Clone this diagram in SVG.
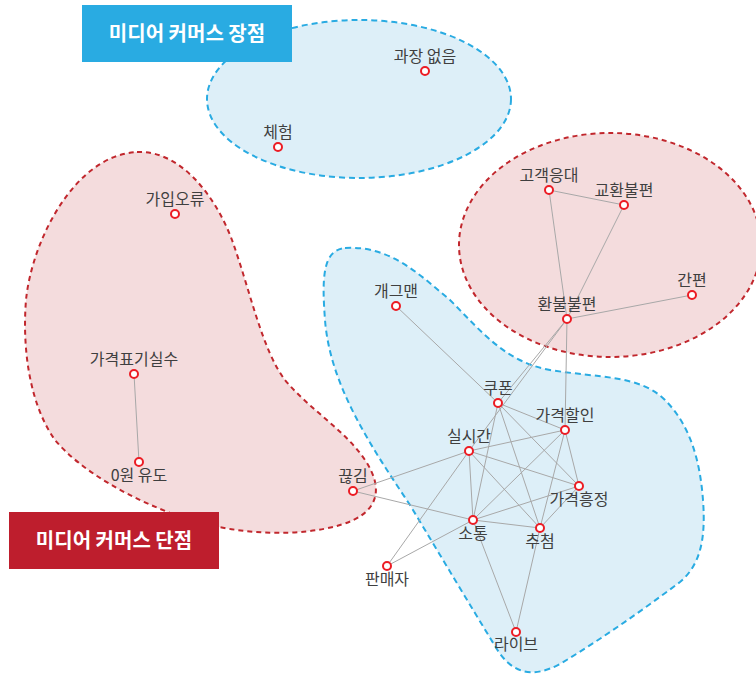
<svg xmlns="http://www.w3.org/2000/svg" width="756" height="677" viewBox="0 0 756 677">
<style>
.blue{fill:#ddeff8;stroke:#29abe2;stroke-width:2;stroke-dasharray:6 4}
.red{fill:#f4dcdd;stroke:#c1272d;stroke-width:2;stroke-dasharray:5 4}
.edge{stroke:#a8a8a8;stroke-width:1;fill:none}
.dot{fill:#fff;stroke:#ec1c24;stroke-width:2}
.lbl{font-family:"Noto Sans CJK KR","Noto Sans",sans-serif;font-size:16px;fill:#3f3f3f;text-anchor:middle}
.title{font-family:"Noto Sans CJK KR","Noto Sans",sans-serif;font-size:20px;font-weight:bold;fill:#fff;text-anchor:middle}
</style>
<rect width="756" height="677" fill="#fff"/>
<g id="regions">
<ellipse id="pros-area" class="blue" cx="359" cy="99" rx="152" ry="79"/>
<ellipse id="cons-area-right" class="red" cx="610" cy="245" rx="151" ry="112"/>
<path id="cons-area-left" class="red" d="M137,152 C180,150 215,195 232,240 C250,290 262,350 285,380 C310,410 345,430 365,460 C385,490 378,514 340,525 C300,537 240,535 190,520 C130,500 80,470 55,440 C30,405 22,350 26,300 C32,240 75,155 137,152 Z"/>
<path id="pros-area-center" class="blue" d="M345,248 C390,245 420,275 450,300 C480,330 505,362 550,370 C600,378 640,375 665,400 C690,425 700,460 703,500 C706,540 700,565 680,582 C640,612 600,640 560,664 C530,680 510,672 495,646 C470,605 440,555 410,505 C370,445 330,385 325,320 C322,280 322,250 345,248 Z"/>
</g>
<g id="connectors">
<line class="edge" x1="134" y1="374" x2="139" y2="462"/>
<line class="edge" x1="549" y1="190" x2="624" y2="205"/>
<line class="edge" x1="549" y1="190" x2="567" y2="319"/>
<line class="edge" x1="624" y1="205" x2="567" y2="319"/>
<line class="edge" x1="692" y1="295" x2="567" y2="319"/>
<line class="edge" x1="567" y1="319" x2="565" y2="430"/>
<line class="edge" x1="567" y1="319" x2="498" y2="403"/>
<line class="edge" x1="567" y1="319" x2="469" y2="451"/>
<line class="edge" x1="396" y1="306" x2="498" y2="403"/>
<line class="edge" x1="498" y1="403" x2="565" y2="430"/>
<line class="edge" x1="498" y1="403" x2="579" y2="486"/>
<line class="edge" x1="498" y1="403" x2="540" y2="528"/>
<line class="edge" x1="498" y1="403" x2="473" y2="520"/>
<line class="edge" x1="469" y1="451" x2="565" y2="430"/>
<line class="edge" x1="469" y1="451" x2="353" y2="491"/>
<line class="edge" x1="469" y1="451" x2="579" y2="486"/>
<line class="edge" x1="469" y1="451" x2="540" y2="528"/>
<line class="edge" x1="469" y1="451" x2="473" y2="520"/>
<line class="edge" x1="469" y1="451" x2="387" y2="566"/>
<line class="edge" x1="565" y1="430" x2="473" y2="520"/>
<line class="edge" x1="565" y1="430" x2="540" y2="528"/>
<line class="edge" x1="565" y1="430" x2="579" y2="486"/>
<line class="edge" x1="579" y1="486" x2="473" y2="520"/>
<line class="edge" x1="579" y1="486" x2="540" y2="528"/>
<line class="edge" x1="353" y1="491" x2="473" y2="520"/>
<line class="edge" x1="473" y1="520" x2="540" y2="528"/>
<line class="edge" x1="473" y1="520" x2="387" y2="566"/>
<line class="edge" x1="473" y1="520" x2="516" y2="632"/>
<line class="edge" x1="540" y1="528" x2="516" y2="632"/>
</g>
<g id="n-gwajang"><circle class="dot" cx="425" cy="71" r="4"/><text class="lbl" x="425" y="62">과장 없음</text></g>
<g id="n-cheheom"><circle class="dot" cx="278" cy="147" r="4"/><text class="lbl" x="278" y="138">체험</text></g>
<g id="n-gaiporyu"><circle class="dot" cx="175" cy="214" r="4"/><text class="lbl" x="175" y="205">가입오류</text></g>
<g id="n-pyogi"><circle class="dot" cx="134" cy="374" r="4"/><text class="lbl" x="134" y="365">가격표기실수</text></g>
<g id="n-0won"><circle class="dot" cx="139" cy="462" r="4"/><text class="lbl" x="139" y="481">0원 유도</text></g>
<g id="n-kkeungim"><circle class="dot" cx="353" cy="491" r="4"/><text class="lbl" x="353" y="482">끊김</text></g>
<g id="n-panmaeja"><circle class="dot" cx="387" cy="566" r="4"/><text class="lbl" x="387" y="585">판매자</text></g>
<g id="n-gogaek"><circle class="dot" cx="549" cy="190" r="4"/><text class="lbl" x="549" y="181">고객응대</text></g>
<g id="n-gyohwan"><circle class="dot" cx="624" cy="205" r="4"/><text class="lbl" x="624" y="196">교환불편</text></g>
<g id="n-ganpyeon"><circle class="dot" cx="692" cy="295" r="4"/><text class="lbl" x="692" y="286">간편</text></g>
<g id="n-hwanbul"><circle class="dot" cx="567" cy="319" r="4"/><text class="lbl" x="567" y="310">환불불편</text></g>
<g id="n-gagman"><circle class="dot" cx="396" cy="306" r="4"/><text class="lbl" x="396" y="297">개그맨</text></g>
<g id="n-coupon"><circle class="dot" cx="498" cy="403" r="4"/><text class="lbl" x="498" y="394">쿠폰</text></g>
<g id="n-halin"><circle class="dot" cx="565" cy="430" r="4"/><text class="lbl" x="565" y="421">가격할인</text></g>
<g id="n-silsigan"><circle class="dot" cx="469" cy="451" r="4"/><text class="lbl" x="469" y="442">실시간</text></g>
<g id="n-heungjeong"><circle class="dot" cx="579" cy="486" r="4"/><text class="lbl" x="579" y="505">가격흥정</text></g>
<g id="n-sotong"><circle class="dot" cx="473" cy="520" r="4"/><text class="lbl" x="473" y="539">소통</text></g>
<g id="n-chucheom"><circle class="dot" cx="540" cy="528" r="4"/><text class="lbl" x="540" y="547">추첨</text></g>
<g id="n-live"><circle class="dot" cx="516" cy="632" r="4"/><text class="lbl" x="516" y="650">라이브</text></g>
<g id="title-pros"><rect x="82" y="5" width="210" height="57" fill="#29abe2"/><text class="title" x="187" y="41">미디어 커머스 장점</text></g>
<g id="title-cons"><rect x="9" y="512" width="210" height="57" fill="#be1e2d"/><text class="title" x="114" y="548">미디어 커머스 단점</text></g>
</svg>
